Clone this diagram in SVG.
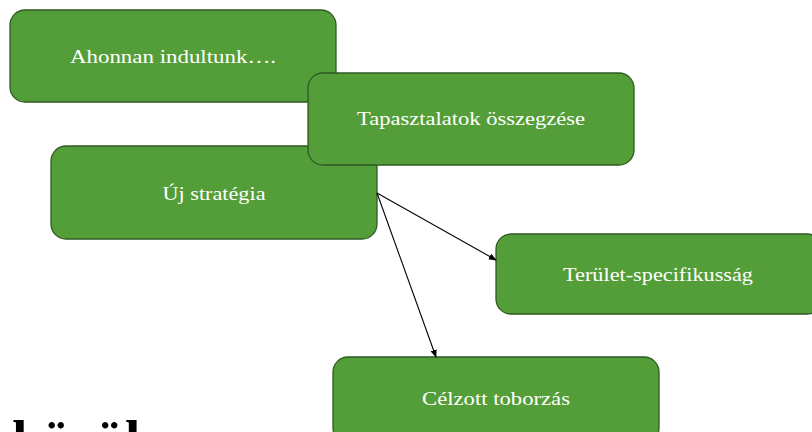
<svg xmlns="http://www.w3.org/2000/svg" width="812" height="432" viewBox="0 0 812 432">
<defs>
<style>
.box{fill:#549e39;stroke:#2f5a22;stroke-width:1.3}
.lbl{font-family:"Liberation Serif","DejaVu Serif",serif;font-size:19px;fill:#ffffff;text-anchor:middle}
.conn{stroke:#000;stroke-width:1.1;fill:none;marker-end:url(#ah)}
.big{font-family:"Liberation Serif","DejaVu Serif",serif;font-size:55px;font-weight:bold;fill:#000}
</style>
<marker id="ah" viewBox="0 0 10 10" refX="9" refY="5" markerWidth="8" markerHeight="8" markerUnits="userSpaceOnUse" orient="auto">
<path d="M0,1 L10,5 L0,9 Z" fill="#000"/>
</marker>
</defs>
<rect width="812" height="432" fill="#ffffff"/>
<text class="big" x="12" y="458">közül</text>
<g id="node-ahonnan">
<rect class="box" x="10" y="10" width="326" height="92" rx="15"/>
<text class="lbl" x="173" y="63" textLength="206" lengthAdjust="spacingAndGlyphs">Ahonnan indultunk….</text>
</g>
<g id="node-uj">
<rect class="box" x="51" y="146" width="326" height="93" rx="15"/>
<text class="lbl" x="214" y="200" textLength="103" lengthAdjust="spacingAndGlyphs">Új stratégia</text>
</g>
<g id="node-tapasztalatok">
<rect class="box" x="308" y="73" width="326" height="92" rx="15"/>
<text class="lbl" x="471" y="125" textLength="228" lengthAdjust="spacingAndGlyphs">Tapasztalatok összegzése</text>
</g>
<g id="node-terulet">
<rect class="box" x="496" y="234" width="326" height="80" rx="15"/>
<text class="lbl" x="658" y="281" textLength="190" lengthAdjust="spacingAndGlyphs">Terület-specifikusság</text>
</g>
<g id="node-celzott">
<rect class="box" x="333" y="357" width="326" height="86" rx="15"/>
<text class="lbl" x="496" y="405" textLength="148" lengthAdjust="spacingAndGlyphs">Célzott toborzás</text>
</g>
<g id="connectors">
<line class="conn" x1="377" y1="193" x2="496" y2="260"/>
<line class="conn" x1="377" y1="193" x2="436" y2="357"/>
</g>
</svg>
